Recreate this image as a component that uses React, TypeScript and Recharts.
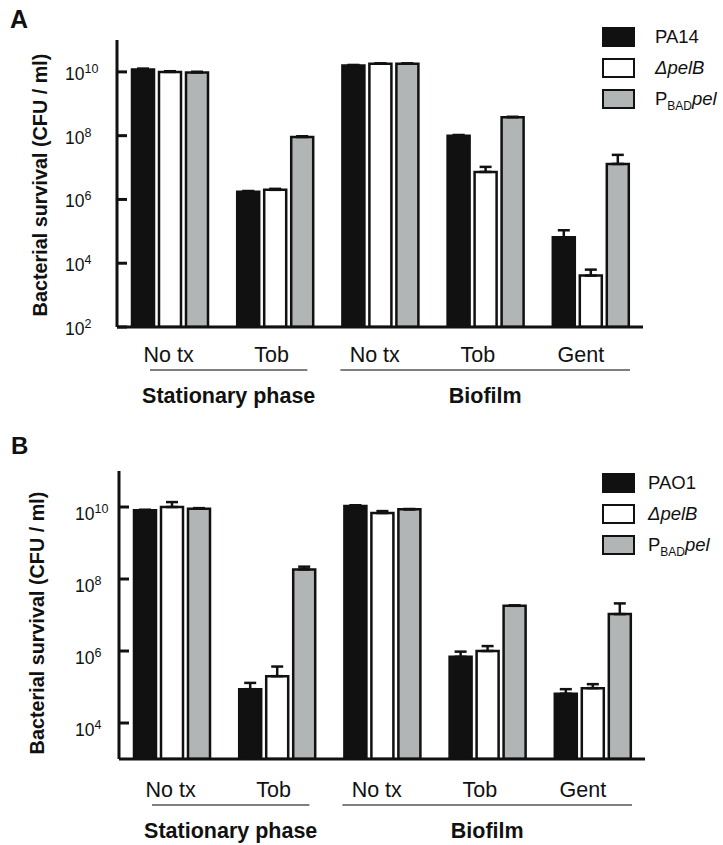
import React from "react";
import { BarChart, Bar, XAxis, YAxis, ErrorBar } from "recharts";

// categories along the x axis and the two condition groups under them
const categories = ["No tx", "Tob", "No tx", "Tob", "Gent"];
const groups = [
  { label: "Stationary phase", from: 0, to: 1 },
  { label: "Biofilm", from: 2, to: 4 },
];

// Panel A: PA14 background (CFU / ml)
const pa14A = [1.19e10, 1.74e6, 1.6e10, 1.0e8, 6.5e4];
const pa14ErrA = [0.08e10, 0.1e6, 0.05e10, 0.05e8, 4.3e4];
const pelBA = [1.0e10, 2.0e6, 1.8e10, 7.3e6, 4.1e3];
const pelBErrA = [0.05e10, 0.15e6, 0.05e10, 3.2e6, 2.2e3];
const pbadA = [0.96e10, 9.1e7, 1.8e10, 3.8e8, 1.3e7];
const pbadErrA = [0.05e10, 0.5e7, 0.05e10, 0.1e8, 1.2e7];
const ticksA = [1e2, 1e4, 1e6, 1e8, 1e10];

// Panel B: PAO1 background (CFU / ml)
const pao1B = [8.1e9, 8.7e4, 1.07e10, 6.9e5, 6.5e4];
const pao1ErrB = [0.3e9, 4.3e4, 0.05e10, 2.7e5, 2.2e4];
const pelBB = [1.0e10, 2.0e5, 6.8e9, 1.0e6, 9.3e4];
const pelBErrB = [0.37e10, 1.7e5, 0.9e9, 0.37e6, 2.7e4];
const pbadB = [9.0e9, 1.85e8, 8.6e9, 1.8e7, 1.06e7];
const pbadErrB = [0.3e9, 0.35e8, 0.2e9, 0.05e7, 1.04e7];
const ticksB = [1e4, 1e6, 1e8, 1e10];

const INK = "#111111";
const GREY = "#b2b5b6";
const FONT = "'Liberation Sans', Arial, sans-serif";

function rows(wt: number[], wtErr: number[], pel: number[], pelErr: number[], pbad: number[], pbadErr: number[]) {
  return categories.map((_, i) => ({
    key: i,
    wt: wt[i],
    wtErr: [0, wtErr[i]],
    pel: pel[i],
    pelErr: [0, pelErr[i]],
    pbad: pbad[i],
    pbadErr: [0, pbadErr[i]],
  }));
}

type Layout = {
  top: number;
  height: number;
  marginTop: number;
  axisX: number;
  right: number;
  xAxisHeight: number;
  tickLabelX: number;
  tickDy: number;
  catBaseline: number;
  lineY: number;
  groupBaseline: number;
  yLabelX: number;
  yLabelY: number;
  domain: [number, number];
  ticks: number[];
};

const layoutA: Layout = {
  top: 0, height: 420, marginTop: 40, axisX: 117, right: 80, xAxisHeight: 93,
  tickLabelX: 65, tickDy: 8, catBaseline: 362, lineY: 370, groupBaseline: 403,
  yLabelX: 47, yLabelY: 185, domain: [1e2, 1e11], ticks: ticksA,
};
const layoutB: Layout = {
  top: 420, height: 425, marginTop: 51, axisX: 119, right: 78, xAxisHeight: 86,
  tickLabelX: 75, tickDy: 13, catBaseline: 377, lineY: 385, groupBaseline: 418,
  yLabelX: 44, yLabelY: 203, domain: [1e3, 1e11], ticks: ticksB,
};

// left/right insets of the group underline inside the outer bands
const groupInsets = [
  [33, 20],
  [13, 13],
];
// category labels sit slightly left of the bar groups in the original
const LABEL_SPREAD = 0.98;

function YTick(props: any) {
  const { y, payload, L } = props;
  const exp = Math.round(Math.log10(payload.value));
  return (
    <g>
      <line x1={L.axisX} x2={L.axisX + 10} y1={y} y2={y} stroke={INK} strokeWidth={3} />
      <text x={L.tickLabelX} y={y + L.tickDy} fontSize={17.5} fill={INK} fontFamily={FONT}>
        10
        <tspan dy={-7} fontSize={12.5}>{exp}</tspan>
      </text>
    </g>
  );
}

function XTick(props: any) {
  const { x, payload, L } = props;
  const i = Number(payload.value);
  const band = (723 - L.axisX - L.right) / categories.length;
  const gi = groups.findIndex((g) => g.from === i);
  const lx = L.axisX + (x - L.axisX) * LABEL_SPREAD;
  let bracket = null;
  if (gi >= 0) {
    const g = groups[gi];
    const x1 = x - band / 2 + groupInsets[gi][0];
    const x2 = x + (g.to - g.from) * band + band / 2 - groupInsets[gi][1];
    bracket = (
      <g>
        <line x1={x1} x2={x2} y1={L.lineY} y2={L.lineY} stroke="#555" strokeWidth={1.5} />
        <text x={(x1 + x2) / 2} y={L.groupBaseline} textAnchor="middle" fontSize={21.5} fontWeight="bold" fill={INK} fontFamily={FONT}>
          {g.label}
        </text>
      </g>
    );
  }
  return (
    <g>
      <text x={lx} y={L.catBaseline} textAnchor="middle" fontSize={21.5} fill={INK} fontFamily={FONT}>
        {categories[i]}
      </text>
      {bracket}
    </g>
  );
}

function YLabel({ cx, cy }: { cx: number; cy: number }) {
  return (
    <text x={cx} y={cy} transform={`rotate(-90 ${cx} ${cy})`} textAnchor="middle" fontSize={19.8} fontWeight="bold" fill={INK} fontFamily={FONT}>
      Bacterial survival (CFU / ml)
    </text>
  );
}

function Panel({ L, data }: { L: Layout; data: any[] }) {
  return (
    <div style={{ position: "absolute", left: 0, top: L.top }}>
      <BarChart
        width={723}
        height={L.height}
        data={data}
        margin={{ top: L.marginTop, right: L.right, bottom: 0, left: 0 }}
        barSize={22}
        barGap={5}
      >
        <XAxis
          dataKey="key"
          type="category"
          height={L.xAxisHeight}
          interval={0}
          tickLine={false}
          axisLine={{ stroke: INK, strokeWidth: 3 }}
          tick={(p: any) => <XTick {...p} L={L} />}
        />
        <YAxis
          scale="log"
          type="number"
          domain={L.domain}
          ticks={L.ticks}
          allowDataOverflow
          width={L.axisX}
          tickLine={false}
          axisLine={{ stroke: INK, strokeWidth: 3 }}
          tick={(p: any) => <YTick {...p} L={L} />}
          label={<YLabel cx={L.yLabelX} cy={L.yLabelY} />}
        />
        <Bar dataKey="wt" fill={INK} stroke={INK} strokeWidth={2.5} isAnimationActive={false}>
          <ErrorBar dataKey="wtErr" width={6} stroke={INK} strokeWidth={2.5} direction="y" isAnimationActive={false} />
        </Bar>
        <Bar dataKey="pel" fill="#ffffff" stroke={INK} strokeWidth={2.5} isAnimationActive={false}>
          <ErrorBar dataKey="pelErr" width={6} stroke={INK} strokeWidth={2.5} direction="y" isAnimationActive={false} />
        </Bar>
        <Bar dataKey="pbad" fill={GREY} stroke={INK} strokeWidth={2.5} isAnimationActive={false}>
          <ErrorBar dataKey="pbadErr" width={6} stroke={INK} strokeWidth={2.5} direction="y" isAnimationActive={false} />
        </Bar>
      </BarChart>
    </div>
  );
}

function KeyBox({ top, textLeft, strain }: { top: number; textLeft: number; strain: string }) {
  const items = [
    { fill: INK, label: <span>{strain}</span> },
    { fill: "#ffffff", label: <span style={{ fontStyle: "italic" }}>ΔpelB</span> },
    {
      fill: GREY,
      label: (
        <span>
          P<span style={{ fontSize: 12, position: "relative", top: 5 }}>BAD</span>
          <span style={{ fontStyle: "italic" }}>pel</span>
        </span>
      ),
    },
  ];
  return (
    <div style={{ position: "absolute", left: 602, top, fontFamily: FONT, fontSize: 18.5, color: INK }}>
      {items.map((it, k) => (
        <div key={k} style={{ position: "absolute", top: k * 31, left: 0, height: 20, width: 130 }}>
          <div
            style={{
              position: "absolute",
              left: 0,
              top: 0,
              width: 33,
              height: 20,
              boxSizing: "border-box",
              border: `2.5px solid ${INK}`,
              background: it.fill,
            }}
          />
          <div style={{ position: "absolute", left: textLeft - 602, top: -1, lineHeight: "22px", whiteSpace: "nowrap" }}>
            {it.label}
          </div>
        </div>
      ))}
    </div>
  );
}

export default function App() {
  const dataA = rows(pa14A, pa14ErrA, pelBA, pelBErrA, pbadA, pbadErrA);
  const dataB = rows(pao1B, pao1ErrB, pelBB, pelBErrB, pbadB, pbadErrB);
  return (
    <div style={{ position: "absolute", left: 0, top: 0, width: 723, height: 845, background: "#fff", overflow: "hidden" }}>
      <Panel L={layoutA} data={dataA} />
      <Panel L={layoutB} data={dataB} />
      <KeyBox top={27} textLeft={655} strain="PA14" />
      <KeyBox top={473} textLeft={648} strain="PAO1" />
      <div style={{ position: "absolute", left: 10, top: 7, fontFamily: FONT, fontWeight: "bold", fontSize: 25, lineHeight: "25px", color: INK }}>A</div>
      <div style={{ position: "absolute", left: 11, top: 434, fontFamily: FONT, fontWeight: "bold", fontSize: 24, lineHeight: "24px", color: INK }}>B</div>
    </div>
  );
}
